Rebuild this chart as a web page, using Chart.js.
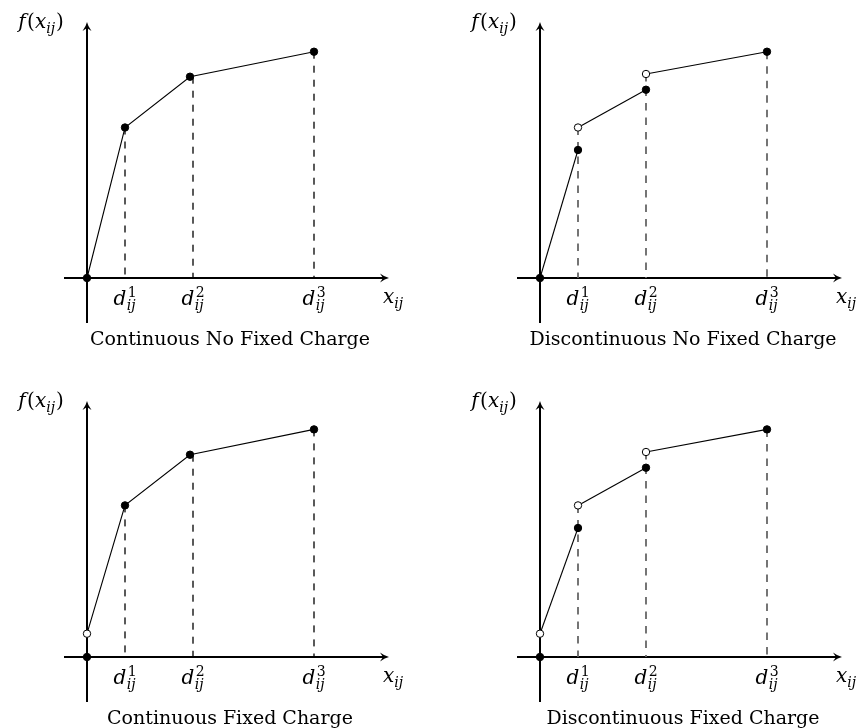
<!DOCTYPE html>
<html><head><meta charset="utf-8">
<script src="https://cdn.jsdelivr.net/npm/chart.js@4.4.1/dist/chart.umd.min.js"></script>
<style>
html,body{margin:0;padding:0;background:#fff;overflow:hidden;width:864px;height:728px;}
canvas{position:absolute;}
</style></head><body>
<canvas id="c0" width="411" height="349" style="left:0px;top:0px"></canvas>
<canvas id="c1" width="411" height="349" style="left:453px;top:0px"></canvas>
<canvas id="c2" width="411" height="349" style="left:0px;top:379px"></canvas>
<canvas id="c3" width="411" height="349" style="left:453px;top:379px"></canvas>
<script>
// ---------- data ----------
const panelTitles = ["Continuous No Fixed Charge", "Discontinuous No Fixed Charge",
                     "Continuous Fixed Charge", "Discontinuous Fixed Charge"];
const breakSup = ["1", "2", "3"];           // d^k_ij tick labels
const breakSub = "ij";
const xAxisName = "x", yAxisName = "f";

// Panel 1: continuous, no fixed charge
const p1SegX = [[0, 3.8, 10.3, 22.7]];
const p1SegY = [[0, 15.05, 20.13, 22.63]];
const p1SegOpen = [[0, 0, 0, 0]];
const p1DashX = [3.8, 10.6, 22.7];
const p1DashTop = [15.05, 20.13, 22.63];

// Panel 2: discontinuous, no fixed charge
const p2SegX = [[0, 3.8], [3.8, 10.6], [10.6, 22.7]];
const p2SegY = [[0, 12.8], [15.05, 18.83], [20.4, 22.63]];
const p2SegOpen = [[0, 0], [1, 0], [1, 0]];
const p2DashX = [3.8, 10.6, 22.7];
const p2DashTop = [15.05, 20.4, 22.63];

// Panel 3: continuous, fixed charge
const p3SegX = [[0], [0, 3.8, 10.3, 22.7]];
const p3SegY = [[0], [2.33, 15.16, 20.23, 22.76]];
const p3SegOpen = [[0], [1, 0, 0, 0]];
const p3DashX = [3.8, 10.6, 22.7];
const p3DashTop = [15.16, 20.23, 22.76];

// Panel 4: discontinuous, fixed charge
const p4SegX = [[0], [0, 3.8], [3.8, 10.6], [10.6, 22.7]];
const p4SegY = [[0], [2.33, 12.9], [15.16, 18.93], [20.5, 22.76]];
const p4SegOpen = [[0], [1, 0], [1, 0], [1, 0]];
const p4DashX = [3.8, 10.6, 22.7];
const p4DashTop = [15.16, 20.5, 22.76];

const xRange = [-2.3, 30.2];
const yRange = [-4.5, 25.6];

// ---------- drawing helpers ----------
const FONT = '"DejaVu Serif", "Liberation Serif", serif';
const MAIN = 20, SCRIPT = 14;

function fnt(it, sz){ return (it ? 'italic ' : '') + sz + 'px ' + FONT; }

function itemWidth(ctx, it){
  if (it.t !== undefined){ ctx.font = fnt(it.it, MAIN); return ctx.measureText(it.t).width + (it.k || 0); }
  let w = 0;
  if (it.sup){ ctx.font = fnt(false, SCRIPT); w = Math.max(w, ctx.measureText(it.sup).width); }
  if (it.sub){ ctx.font = fnt(true, SCRIPT); w = Math.max(w, ctx.measureText(it.sub).width); }
  return w + 1;
}

function drawMath(ctx, items, x, base, align){
  const ws = items.map(i => itemWidth(ctx, i));
  const total = ws.reduce((a, b) => a + b, 0);
  let cx = align === 'center' ? x - total / 2 : x;
  ctx.fillStyle = '#000';
  ctx.textBaseline = 'alphabetic';
  ctx.textAlign = 'left';
  items.forEach((it, i) => {
    if (it.t !== undefined){
      ctx.font = fnt(it.it, MAIN); ctx.fillText(it.t, cx, base);
    } else {
      if (it.sup){ ctx.font = fnt(false, SCRIPT); ctx.fillText(it.sup, cx + 1, base - 8); }
      if (it.sub){ ctx.font = fnt(true, SCRIPT); ctx.fillText(it.sub, cx, base + 5); }
    }
    cx += ws[i];
  });
}

function arrowHead(ctx, tx, ty, ang){
  ctx.save();
  ctx.translate(tx, ty); ctx.rotate(ang);
  ctx.beginPath();
  ctx.moveTo(0, 0);
  ctx.quadraticCurveTo(-4, -0.8, -9, -4.5);
  ctx.lineTo(-6, 0);
  ctx.lineTo(-9, 4.5);
  ctx.quadraticCurveTo(-4, 0.8, 0, 0);
  ctx.closePath();
  ctx.fill();
  ctx.restore();
}

const decor = {
  id: 'decor',
  beforeDatasetsDraw(chart, args, opts){
    const {ctx, chartArea: a, scales: {x, y}} = chart;
    const x0 = x.getPixelForValue(0), y0 = y.getPixelForValue(0);
    ctx.save();
    ctx.strokeStyle = '#000'; ctx.fillStyle = '#000'; ctx.lineWidth = 2;
    ctx.beginPath(); ctx.moveTo(a.left, y0); ctx.lineTo(a.right - 5, y0); ctx.stroke();
    ctx.beginPath(); ctx.moveTo(x0, a.bottom); ctx.lineTo(x0, a.top + 5); ctx.stroke();
    arrowHead(ctx, a.right, y0, 0);
    arrowHead(ctx, x0, a.top, -Math.PI / 2);
    ctx.restore();
  },
  afterDraw(chart, args, opts){
    const {ctx, chartArea: a, scales: {x, y}} = chart;
    const x0 = x.getPixelForValue(0), y0 = y.getPixelForValue(0);
    ctx.save();
    opts.ticks.forEach((v, i) => {
      drawMath(ctx, [{t: 'd', it: true, k: 0.5}, {sup: breakSup[i], sub: breakSub}],
               x.getPixelForValue(v), y0 + 27, 'center');
    });
    drawMath(ctx, [{t: xAxisName, it: true}, {sub: breakSub}], a.right - 6, y0 + 25, 'left');
    drawMath(ctx, [{t: yAxisName, it: true, k: 1.5}, {t: '(', it: false}, {t: xAxisName, it: true},
                   {sub: breakSub}, {t: ')', it: false}], x0 - 46, y0 - 250, 'center');
    ctx.font = '19px ' + FONT;
    ctx.fillStyle = '#000';
    ctx.textAlign = 'center';
    ctx.textBaseline = 'alphabetic';
    ctx.fillText(opts.title, x0 + 143, a.bottom + 22);
    ctx.restore();
  }
};

function buildChart(id, title, segX, segY, segOpen, dashX, dashTop, dashStyle){
  const datasets = [];
  segX.forEach((xs, s) => {
    datasets.push({
      data: xs.map((v, i) => ({x: v, y: segY[s][i]})),
      borderColor: '#000', borderWidth: 1.1, tension: 0, fill: false,
      pointRadius: 3.7, pointHoverRadius: 3.7,
      pointBackgroundColor: segOpen[s].map(o => o ? '#fff' : '#000'),
      pointBorderColor: '#000', pointBorderWidth: 1
    });
  });
  dashX.forEach((v, i) => {
    datasets.push({
      data: [{x: v, y: dashTop[i]}, {x: v, y: 0}],
      borderColor: dashStyle.color, borderWidth: dashStyle.width,
      borderDash: dashStyle.dash, pointRadius: 0, tension: 0, fill: false
    });
  });
  return new Chart(document.getElementById(id), {
    type: 'line',
    data: {datasets},
    plugins: [decor],
    options: {
      responsive: false, animation: false, events: [],
      layout: {padding: {left: 64, right: 22, top: 22, bottom: 26}},
      scales: {
        x: {type: 'linear', min: xRange[0], max: xRange[1], display: false},
        y: {type: 'linear', min: yRange[0], max: yRange[1], display: false}
      },
      plugins: {legend: {display: false}, tooltip: {enabled: false},
                decor: {title, ticks: dashX}}
    }
  });
}

const blackDash = {color: '#000', width: 1.3, dash: [7, 7]};
const greyDash = {color: '#666', width: 1.8, dash: [7.5, 7]};
buildChart('c0', panelTitles[0], p1SegX, p1SegY, p1SegOpen, p1DashX, p1DashTop, blackDash);
buildChart('c1', panelTitles[1], p2SegX, p2SegY, p2SegOpen, p2DashX, p2DashTop, greyDash);
buildChart('c2', panelTitles[2], p3SegX, p3SegY, p3SegOpen, p3DashX, p3DashTop, blackDash);
buildChart('c3', panelTitles[3], p4SegX, p4SegY, p4SegOpen, p4DashX, p4DashTop, greyDash);
</script>
</body></html>
